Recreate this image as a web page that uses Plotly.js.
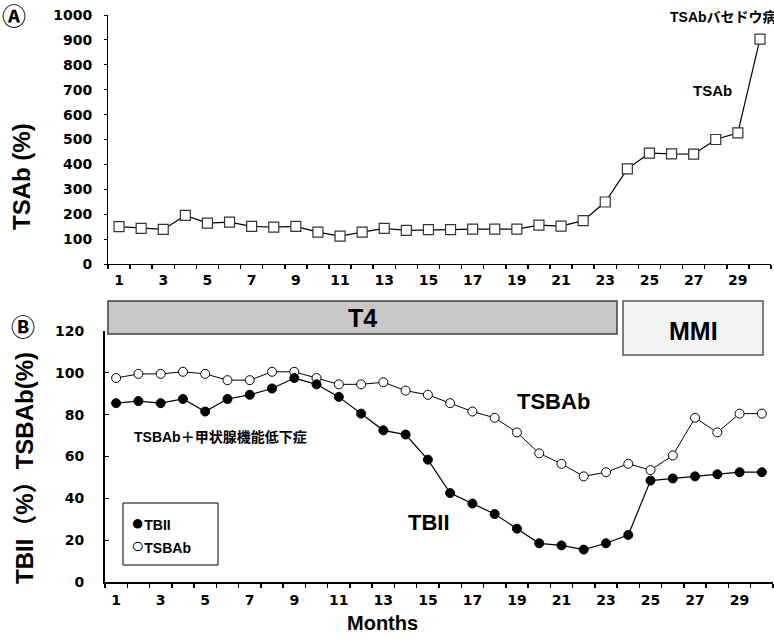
<!DOCTYPE html>
<html>
<head>
<meta charset="utf-8">
<script src="https://cdn.plot.ly/plotly-3.0.1.min.js"></script>
<style>
  html, body { margin: 0; padding: 0; background: #ffffff; }
  #chart { width: 774px; height: 641px; }
</style>
</head>
<body>
<div id="chart"></div>
<script>
// ---- Data ----
const months = [1,2,3,4,5,6,7,8,9,10,11,12,13,14,15,16,17,18,19,20,21,22,23,24,25,26,27,28,29,30];
const tsabValues = [150,143,139,195,164,168,151,148,151,128,112,128,143,135,138,138,140,140,140,156,152,174,249,382,445,442,441,500,527,903];
const tbiiValues = [85.5,86.5,85.5,87.5,81.5,87.5,89.5,92.5,97.5,94.5,88.5,80.5,72.5,70.5,58.5,42.5,37.5,32.5,25.5,18.5,17.5,15.5,18.5,22.5,48.5,49.5,50.5,51.5,52.5,52.5];
const tsbabValues = [97.5,99.5,99.5,100.5,99.5,96.5,96.5,100.5,100.5,97.5,94.5,94.5,95.5,91.5,89.5,85.5,81.5,78.5,71.5,61.5,56.5,50.5,52.5,56.5,53.5,60.5,78.5,71.5,80.5,80.5];
const xTickLabels = ['1','3','5','7','9','11','13','15','17','19','21','23','25','27','29'];
const xTickVals = [1,3,5,7,9,11,13,15,17,19,21,23,25,27,29];

const W = 774, H = 641;
const px = v => v / W;
const py = v => 1 - v / H;

const tickFont = {family: 'DejaVu Sans', size: 14, color: '#000', weight: 'bold'};
const boldFont = (s) => ({family: 'Liberation Sans, Arial, Noto Sans CJK JP', size: s, color: '#000', weight: 'bold'});

const traces = [
  {
    x: months, y: tsabValues, xaxis: 'x', yaxis: 'y',
    type: 'scatter', mode: 'lines+markers', showlegend: false,
    line: {color: '#000', width: 1.2},
    marker: {symbol: 'square', size: 10, color: '#fff', line: {color: '#333', width: 1.2}},
    cliponaxis: false
  },
  {
    x: months, y: tsbabValues, xaxis: 'x2', yaxis: 'y2',
    type: 'scatter', mode: 'lines+markers', showlegend: false,
    line: {color: '#000', width: 1},
    marker: {symbol: 'circle', size: 9, color: '#fff', line: {color: '#000', width: 1}},
    cliponaxis: false
  },
  {
    x: months, y: tbiiValues, xaxis: 'x2', yaxis: 'y2',
    type: 'scatter', mode: 'lines+markers', showlegend: false,
    line: {color: '#000', width: 1.2},
    marker: {symbol: 'circle', size: 9, color: '#000', line: {color: '#000', width: 1}},
    cliponaxis: false
  }
];

const xCommon = {
  range: [0.5, 30.5], tickmode: 'array', tickvals: xTickVals, ticktext: xTickLabels,
  ticks: '', showgrid: false, zeroline: false, showline: true, linecolor: '#000',
  tickfont: tickFont,
  minor: {ticks: 'outside', ticklen: 4, tickwidth: 1.5, tickcolor: '#000', tick0: 0.5, dtick: 1, showgrid: false}
};

function ann(text, x, y, font, extra) {
  return Object.assign({text: text, xref: 'paper', yref: 'paper', x: px(x), y: py(y),
    xanchor: 'center', yanchor: 'middle', showarrow: false, font: font}, extra || {});
}

const layout = {
  width: W, height: H,
  margin: {l: 0, r: 0, t: 0, b: 0},
  paper_bgcolor: '#fff', plot_bgcolor: '#fff',
  showlegend: false,
  xaxis: Object.assign({}, xCommon, {
    domain: [px(108), px(771)], anchor: 'y', linewidth: 1, ticklabelstandoff: 3
  }),
  yaxis: {
    domain: [py(264), py(15)], anchor: 'x', range: [0, 1000], dtick: 100, tick0: 0,
    ticks: 'outside', ticklen: 3, tickcolor: '#000', showgrid: false, zeroline: false,
    showline: true, linecolor: '#000', linewidth: 1, tickfont: tickFont, ticklabelstandoff: 9
  },
  xaxis2: Object.assign({}, xCommon, {
    domain: [px(105), px(773)], anchor: 'y2', linewidth: 2, ticklabelstandoff: 4
  }),
  yaxis2: {
    domain: [py(582), py(331)], anchor: 'x2', range: [0, 120], dtick: 20, tick0: 0,
    ticks: 'inside', ticklen: 4, tickcolor: '#000', showgrid: false, zeroline: false,
    showline: true, linecolor: '#000', linewidth: 2, tickfont: tickFont, ticklabelstandoff: 16
  },
  shapes: [
    // T4 treatment bar
    {type: 'rect', xref: 'paper', yref: 'paper', x0: px(108), x1: px(617), y0: py(334), y1: py(301),
     fillcolor: '#c8c8c8', line: {color: '#404040', width: 1.5}},
    // MMI treatment box
    {type: 'rect', xref: 'paper', yref: 'paper', x0: px(623), x1: px(763), y0: py(355), y1: py(301),
     fillcolor: '#f3f3f3', line: {color: '#555', width: 1.5}},
    // legend box
    {type: 'rect', xref: 'paper', yref: 'paper', x0: px(123), x1: px(218), y0: py(565), y1: py(503),
     fillcolor: '#fff', line: {color: '#000', width: 1}}
  ],
  annotations: [
    ann('Ⓐ', 14, 17, {family: 'DejaVu Sans, Noto Sans CJK JP', size: 24, color: '#000', weight: 'bold'}),
    ann('Ⓑ', 23, 328, {family: 'DejaVu Sans, Noto Sans CJK JP', size: 24, color: '#000', weight: 'bold'}),
    ann('TSAb (%)', 22, 177, boldFont(24), {textangle: -90}),
    ann('TBII（%）TSBAb(%)', 24, 468, boldFont(24), {textangle: -90}),
    ann('Months', 382, 623, boldFont(20)),
    ann('TSAbバセドウ病', 668, 17, boldFont(14), {xanchor: 'left'}),
    ann('TSAb', 712, 91, boldFont(15)),
    ann('T4', 362, 318, boldFont(25)),
    ann('MMI', 693, 331, boldFont(25)),
    ann('TSBAb', 553, 402, boldFont(22)),
    ann('TBII', 429, 522, boldFont(22)),
    ann('TSBAb＋甲状腺機能低下症', 132, 437, boldFont(14), {xanchor: 'left'}),
    ann('<span style="font-size:22px">●</span>TBII', 129, 522, boldFont(14), {xanchor: 'left'}),
    ann('<span style="font-size:22px">○</span>TSBAb', 129, 545, boldFont(14), {xanchor: 'left'})
  ]
};

Plotly.newPlot('chart', traces, layout, {staticPlot: true, displayModeBar: false});
</script>
</body>
</html>
